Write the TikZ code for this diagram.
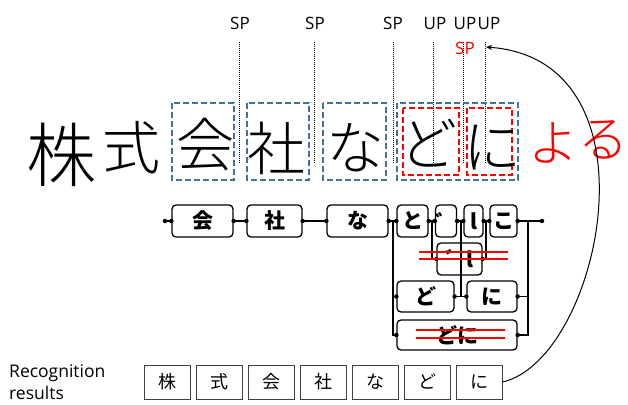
\documentclass[tikz,border=0pt]{standalone}
\usepackage{fontspec}
\setmainfont{Open Sans}
\newfontfamily\jp{Noto Sans CJK JP}
\newfontfamily\jpl{Noto Sans CJK JP Light}
\usetikzlibrary{arrows.meta}
\definecolor{bluedash}{HTML}{41719C}
\begin{document}
\begin{tikzpicture}[x=1pt,y=-1pt,
  lbl/.style={font=\fontsize{17}{17}\selectfont, inner sep=0},
  hw/.style={font=\jpl\fontsize{58}{58}\selectfont, inner sep=0},
  bbox/.style={draw=bluedash, dash pattern=on 6pt off 3pt, line width=2.2pt},
  rbox/.style={draw=red, dash pattern=on 6pt off 3pt, line width=2.2pt},
  dotline/.style={dash pattern=on 1pt off 1pt, line width=1pt},
  lat/.style={draw, rounded corners=4pt, line width=1.3pt, font=\jp\bfseries\fontsize{21}{21}\selectfont, inner sep=0},
  jdot/.style={circle, fill, inner sep=0, minimum size=4.5pt},
  res/.style={draw=black!75, line width=1pt, minimum width=46pt, minimum height=34pt, font=\jp\fontsize{18}{18}\selectfont, inner sep=0},
  wire/.style={line width=1.2pt},
  strike/.style={draw=red, line width=2pt}
]
\useasboundingbox (0,0) rectangle (628,404);

% top labels
\node[lbl, anchor=base] (sp1) at (240,30) {SP};
\node[lbl, anchor=base] (sp2) at (315,30) {SP};
\node[lbl, anchor=base] (sp3) at (393,30) {SP};
\node[lbl, anchor=base] (up1) at (435,30) {UP};
\node[lbl, anchor=base] (up2) at (465,30) {UP};
\node[lbl, anchor=base] (up3) at (489,30) {UP};
\node[lbl, anchor=base, text=red] (sp4) at (465,55) {SP};

% dotted separators
\foreach \x in {239,314,393,433,463,485}
  \draw[dotline] (\x,42) -- (\x,163);

% blue dashed boxes
\draw[bbox] (172,103) rectangle (234,180);
\draw[bbox] (247,103) rectangle (309,180);
\draw[bbox] (323,103) rectangle (386,180);
\draw[bbox] (397,103) rectangle (518,180);
% red dashed boxes
\draw[rbox] (403,108) rectangle (459,175);
\draw[rbox] (467,108) rectangle (512,175);

% handwritten characters
\node[hw, font=\jpl\fontsize{70}{70}\selectfont] (h1) at (61,155) {株};
\node[hw] (h2) at (131,148) {式};
\node[hw] (h3) at (205,145) {会};
\node[hw] (h4) at (276,148) {社};
\node[hw] (h5) at (355,148) {な};
\node[hw] (h6) at (428,143) {ど};
\node[hw] (h7) at (492,148) {に};
\node[hw, text=red, font=\jpl\fontsize{50}{50}\selectfont] (h8) at (553,143) {よ};
\node[hw, text=red, font=\jpl\fontsize{50}{50}\selectfont] (h9) at (603,140) {る};

% lattice
\coordinate (start) at (165,221);
\coordinate (end) at (542,221);
\node[lat, minimum width=61pt, minimum height=32pt] (n1) at (202.5,221) {会};
\node[lat, minimum width=55pt, minimum height=32pt] (n2) at (274.5,221) {社};
\node[lat, minimum width=61pt, minimum height=32pt] (n3) at (357.5,221) {な};
\node[lat, minimum width=31pt, minimum height=32pt] (n4) at (412.5,221) {と};
\node[lat, minimum width=18pt, minimum height=32pt] (n5) at (446,221) {゛};
\node[lat, minimum width=19pt, minimum height=32pt] (n6) at (473.5,221) {l};
\node[lat, minimum width=27pt, minimum height=32pt] (n7) at (503.5,221) {こ};
\node[lat, minimum width=45pt, minimum height=32pt] (m1) at (459.5,259) {゛l};
\node[lat, minimum width=57pt, minimum height=31pt] (r1) at (425.5,296.5) {ど};
\node[lat, minimum width=50pt, minimum height=31pt] (r2) at (492,296.5) {に};
\node[lat, minimum width=120pt, minimum height=30pt] (s1) at (457,335) {どに};

\coordinate (ja) at (393,221);
\coordinate (jb) at (432,221);
\coordinate (jc) at (461,221);
\coordinate (jd) at (486,221);
\coordinate (je) at (528,221);

\draw[wire] (start) -- (n1.west);
\draw[wire] (n1.east) -- (n2.west);
\draw[wire] (n2.east) -- (n3.west);
\draw[wire] (n3.east) -- (n4.west);
\draw[wire] (n4.east) -- (n5.west);
\draw[wire] (n5.east) -- (n6.west);
\draw[wire] (n6.east) -- (n7.west);
\draw[wire] (n7.east) -- (end);
\draw[wire] (ja) |- (s1.west);
\draw[wire] (ja |- r1.west) -- (r1.west);
\draw[wire] (jb) |- (m1.west);
\draw[wire] (jd) |- (m1.east);
\draw[wire] (jc) -- (jc |- r1.east);
\draw[wire] (r1.east) -- (r2.west);
\draw[wire] (je) |- (s1.east);
\draw[wire] (je |- r2.east) -- (r2.east);

\foreach \p in {start,end,n1.west,n1.east,n2.west,n2.east,n3.west,n3.east,n4.west,n4.east,n5.west,n5.east,n6.west,n6.east,n7.west,n7.east,m1.west,m1.east,r1.west,r1.east,r2.west,r2.east,s1.west,s1.east}
  \node[jdot] at (\p) {};

% strike-through lines
\draw[strike] (419,251.7) -- (508,251.7);
\draw[strike] (419,259.3) -- (508,259.3);
\draw[strike] (416,330) -- (505,330);
\draw[strike] (416,337.7) -- (505,337.7);

% recognition results
\node[lbl, anchor=base west, font=\fontsize{17.5}{17.5}\selectfont] (rec1) at (9,377) {Recognition};
\node[lbl, anchor=base west, font=\fontsize{17.5}{17.5}\selectfont] (rec2) at (9,399) {results};
\node[res] (q1) at (167,382) {株};
\node[res] (q2) at (219,382) {式};
\node[res] (q3) at (271,382) {会};
\node[res] (q4) at (323,382) {社};
\node[res] (q5) at (375,382) {な};
\node[res] (q6) at (427,382) {ど};
\node[res] (q7) at (479,382) {に};
\coordinate (tgt) at (486,47);
\draw[line width=1pt, -{Stealth[length=6pt,width=5pt]}] (q7.east) .. controls (600,360) and (665,60) .. (tgt);
\end{tikzpicture}
\end{document}
